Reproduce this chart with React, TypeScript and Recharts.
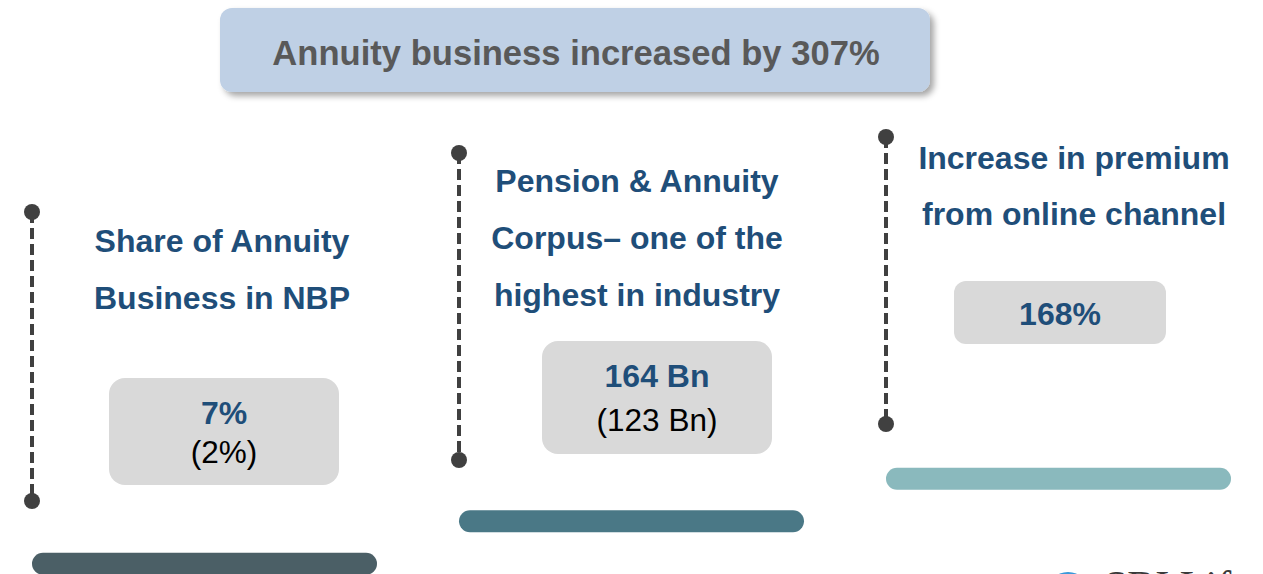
import React from "react";
import { ComposedChart, Bar, XAxis, YAxis } from "recharts";

// ---------- data ----------
const headline = "Annuity business increased by 307%";
const panelTitles: string[][] = [
  ["Share of Annuity", "Business in NBP"],
  ["Pension & Annuity", "Corpus\u2013 one of the", "highest in industry"],
  ["Increase in premium", "from online channel"],
];
const currentValues = ["7%", "164 Bn", "168%"];
const priorValues = ["(2%)", "(123 Bn)", ""];
const tiers = [1, 2, 3];
const logoText = "SBI Life";

const data = panelTitles.map((lines, i) => ({
  idx: i,
  key: `panel${i + 1}`,
  lines,
  current: currentValues[i],
  prior: priorValues[i],
  tier: tiers[i],
}));

// ---------- layout / style ----------
const FONT = "'Liberation Sans', Arial, Helvetica, sans-serif";
const BLUE = "#1F4E79";
const DARK = "#404040";
const PILL_COLORS = ["#4B5F66", "#4A7886", "#8AB9BD"];

const layout = [
  { lineTop: 212, lineBottom: 501, textDx: 190, baselines: [252, 309], boxDx: 77, boxY: 378, boxW: 230, boxH: 107, boxR: 16, valueBase: 424, priorBase: 463 },
  { lineTop: 153, lineBottom: 460, textDx: 178, baselines: [192, 249, 306], boxDx: 83, boxY: 341, boxW: 230, boxH: 113, boxR: 16, valueBase: 387, priorBase: 431 },
  { lineTop: 137, lineBottom: 424, textDx: 188, baselines: [169, 225], boxDx: 68, boxY: 281, boxW: 212, boxH: 63, boxR: 12, valueBase: 325, priorBase: 0 },
];

function PanelShape(props: any) {
  const { x, y, payload } = props;
  const i = payload.idx;
  const L = layout[i];
  const boxCx = x + L.boxDx + L.boxW / 2;
  return (
    <g>
      <line x1={x} x2={x} y1={L.lineTop} y2={L.lineBottom} stroke={DARK} strokeWidth={4} strokeDasharray="11 5" />
      <circle cx={x} cy={L.lineTop} r={8} fill={DARK} />
      <circle cx={x} cy={L.lineBottom} r={8} fill={DARK} />
      {payload.lines.map((t: string, k: number) => (
        <text key={k} x={x + L.textDx} y={L.baselines[k]} textAnchor="middle" fontFamily={FONT} fontWeight="bold" fontSize={32} fill={BLUE}>
          {t}
        </text>
      ))}
      <rect x={x + L.boxDx} y={L.boxY} width={L.boxW} height={L.boxH} rx={L.boxR} ry={L.boxR} fill="#D9D9D9" />
      <text x={boxCx} y={L.valueBase} textAnchor="middle" fontFamily={FONT} fontWeight="bold" fontSize={32} fill={BLUE}>
        {payload.current}
      </text>
      {payload.prior ? (
        <text x={boxCx} y={L.priorBase} textAnchor="middle" fontFamily={FONT} fontSize={31.5} fill="#000">
          {payload.prior}
        </text>
      ) : null}
      <rect x={x} y={y} width={345} height={22} rx={11} ry={11} fill={PILL_COLORS[i]} />
    </g>
  );
}

export default function App() {
  return (
    <div style={{ position: "absolute", left: 0, top: 0, width: 1263, height: 574, overflow: "hidden", background: "#fff" }}>
      <ComposedChart
        width={1313}
        height={574}
        data={data}
        margin={{ top: 0, right: 0, bottom: 0, left: 32 }}
        barCategoryGap={0}
        barGap={0}
      >
        <XAxis dataKey="key" type="category" hide />
        <YAxis type="number" domain={[0.5, 14]} hide allowDataOverflow />
        <Bar dataKey="tier" isAnimationActive={false} shape={<PanelShape />} />
      </ComposedChart>
      <svg width={1263} height={574} style={{ position: "absolute", left: 0, top: 0, pointerEvents: "none" }}>
        <defs>
          <filter id="tshadow" x="-5%" y="-20%" width="112%" height="150%">
            <feDropShadow dx={4} dy={4} stdDeviation={3} floodColor="#000" floodOpacity={0.35} />
          </filter>
          <radialGradient id="logoG" cx="50%" cy="30%" r="60%">
            <stop offset="0%" stopColor="#5AB4EC" />
            <stop offset="100%" stopColor="#1479C4" />
          </radialGradient>
        </defs>
        <rect x={220} y={8} width={710} height={84} rx={12} ry={12} fill="#BFD0E5" filter="url(#tshadow)" />
        <text x={576} y={65} textAnchor="middle" fontFamily={FONT} fontWeight="bold" fontSize={34.6} fill="#595959">
          {headline}
        </text>
        <circle cx={1068} cy={593} r={21} fill="url(#logoG)" />
        <text x={1104} y={600} fontFamily="'Liberation Serif', 'Times New Roman', serif" fontSize={42} fill="#3A3A3A">
          {logoText}
        </text>
      </svg>
    </div>
  );
}
